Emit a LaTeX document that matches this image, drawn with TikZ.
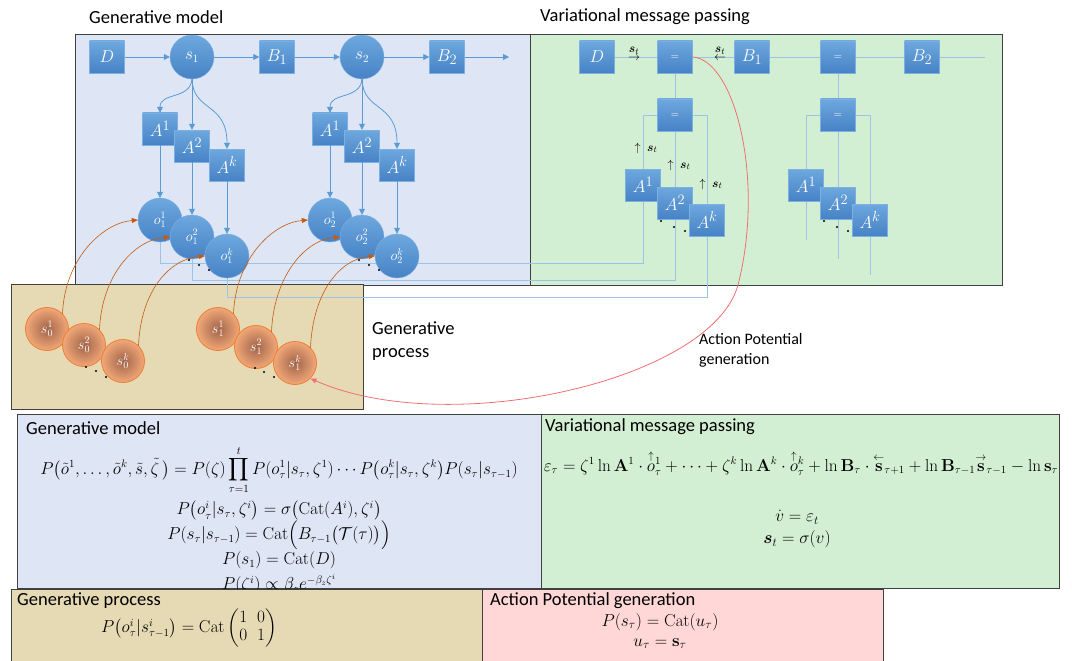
\documentclass[tikz,border=0pt]{standalone}
\usepackage{amsmath,amssymb}
\usepackage[no-math]{fontspec}
\setmainfont{Carlito}
\usepackage{tikz}
\usetikzlibrary{arrows.meta}

\definecolor{panelgm}{HTML}{DEE6F5}
\definecolor{panelvmp}{HTML}{D3EFD3}
\definecolor{panelgp}{HTML}{E6DAB5}
\definecolor{panelap}{HTML}{FFD7D7}
\definecolor{panelrule}{HTML}{404040}
\definecolor{nodetop}{HTML}{6EA8DE}
\definecolor{nodebot}{HTML}{4682C6}
\definecolor{nodeedge}{HTML}{7DB0E2}
\definecolor{flow}{HTML}{5B9BD5}
\definecolor{wire}{HTML}{9DC3E6}
\definecolor{procin}{HTML}{A0644A}
\definecolor{procout}{HTML}{F2A878}
\definecolor{procedge}{HTML}{ED7D31}
\definecolor{causal}{HTML}{C55A11}
\definecolor{action}{HTML}{F07070}

\pgfdeclarelayer{panels}
\pgfdeclarelayer{wires}
\pgfsetlayers{panels,wires,main}

\tikzset{
  panel/.style       = {draw=panelrule, line width=1pt},
  factor/.style      = {shape=rectangle, draw=nodeedge, line width=0.4pt,
                        top color=nodetop, bottom color=nodebot,
                        minimum width=35pt, minimum height=32pt, inner sep=0pt,
                        text=white, font=\fontsize{19}{19}\selectfont},
  equalbox/.style    = {factor, font=\fontsize{11}{11}\selectfont},
  statenode/.style   = {shape=circle, draw=nodeedge, line width=0.4pt,
                        top color=nodetop, bottom color=nodebot,
                        minimum size=44pt, inner sep=0pt, text=white,
                        font=\fontsize{16}{16}\selectfont},
  outcome/.style     = {statenode, font=\fontsize{14}{14}\selectfont},
  cause/.style       = {shape=circle, draw=procedge, line width=0.8pt,
                        inner color=procin, outer color=procout,
                        minimum size=43pt, inner sep=0pt, text=white,
                        font=\fontsize{14}{14}\selectfont},
  paneltitle/.style  = {anchor=west, inner sep=0pt, font=\fontsize{18.5}{22}\selectfont},
  sidenote/.style    = {anchor=west, align=left, inner sep=0pt},
  eqn/.style         = {inner sep=0pt, align=center},
  msg/.style         = {inner sep=0pt, align=center, font=\fontsize{13}{13}\selectfont},
  flowarrow/.style   = {draw=flow, line width=0.8pt, -{Triangle[length=6pt,width=6pt]}},
  wirelink/.style    = {draw=wire, line width=0.8pt},
  causearrow/.style  = {draw=causal, line width=0.6pt, -{Triangle[length=6pt,width=5pt]}},
  actionarrow/.style = {draw=action, line width=0.8pt, -{Triangle[length=6pt,width=5pt]}},
  ellipsisdot/.style = {fill=black, circle, inner sep=0pt, minimum size=2.2pt}
}

\begin{document}
\begin{tikzpicture}[x=1pt, y=-1pt]
  \useasboundingbox (0,0) rectangle (1072,661);

  \begin{pgfonlayer}{panels}
    \draw[panel, fill=panelgm]  (75,35)   rectangle (530,285);
    \draw[panel, fill=panelvmp] (530,35)  rectangle (1002,285);
    \draw[panel, fill=panelgp]  (11,284)  rectangle (363,409);
    \draw[panel, fill=panelgm]  (17,414)  rectangle (541,588);
    \draw[panel, fill=panelvmp] (541,414) rectangle (1059,588);
  \end{pgfonlayer}

  \node[paneltitle] (gmtitle)  at (89,17)  {Generative model};
  \node[paneltitle] (vmptitle) at (540,17) {Variational message passing};
  \node[sidenote, font=\fontsize{18.5}{23}\selectfont] (gpnote) at (372,341) {Generative\\process};
  \node[sidenote, font=\fontsize{16}{20}\selectfont]   (apnote) at (699,350) {Action Potential\\generation};

  % generative model
  \node[factor]    (D)  at (107,57) {$D$};
  \node[statenode] (s1) at (192,57) {$s_1$};
  \node[factor]    (B1) at (277,57) {$B_1$};
  \node[statenode] (s2) at (362,57) {$s_2$};
  \node[factor]    (B2) at (447,57) {$B_2$};
  \coordinate (gmtail) at (509,57);

  \draw[flowarrow] (D)  -- (s1);
  \draw[flowarrow] (s1) -- (B1);
  \draw[flowarrow] (B1) -- (s2);
  \draw[flowarrow] (s2) -- (B2);
  \draw[flowarrow] (B2) -- (gmtail);

  \foreach \t/\x in {1/0, 2/170}{
    \node[factor]  (A\t-1) at (160+\x,129) {$A^1$};
    \node[factor]  (A\t-2) at (192+\x,146) {$A^2$};
    \node[factor]  (A\t-k) at (227+\x,165) {$A^k$};
    \node[outcome] (o\t-1) at (160+\x,220) {$o_{\t}^1$};
    \node[outcome] (o\t-2) at (192+\x,237) {$o_{\t}^2$};
    \node[outcome] (o\t-k) at (227+\x,256) {$o_{\t}^k$};
    \draw[flowarrow] (s\t.south) .. controls (190+\x,100) and (160+\x,92) .. (A\t-1.north);
    \draw[flowarrow] (s\t.south) -- (A\t-2.north);
    \draw[flowarrow] (s\t.south) .. controls (193+\x,112) and (227+\x,102) .. (A\t-k.north);
    \draw[flowarrow] (A\t-1) -- (o\t-1);
    \draw[flowarrow] (A\t-2) -- (o\t-2);
    \draw[flowarrow] (A\t-k) -- (o\t-k);
    \node[ellipsisdot] at (189+\x,260) {};
    \node[ellipsisdot] at (199+\x,265) {};
    \node[ellipsisdot] at (209+\x,270) {};
  }

  % variational message passing
  \node[factor]   (vD)   at (597,57)  {$D$};
  \node[equalbox] (eq1)  at (675,57)  {$=$};
  \node[factor]   (vB1)  at (752,57)  {$B_1$};
  \node[equalbox] (eq2)  at (838,57)  {$=$};
  \node[factor]   (vB2)  at (922,57)  {$B_2$};
  \coordinate (vtail) at (985,57);
  \node[equalbox] (eq1b) at (675,115) {$=$};
  \node[equalbox] (eq2b) at (838,115) {$=$};

  \foreach \t/\x in {1/0, 2/163}{
    \node[factor] (vA\t-1) at (643+\x,185) {$A^1$};
    \node[factor] (vA\t-2) at (675+\x,203) {$A^2$};
    \node[factor] (vA\t-k) at (707+\x,220) {$A^k$};
    \node[ellipsisdot] at (661+\x,221) {};
    \node[ellipsisdot] at (674+\x,227) {};
    \node[ellipsisdot] at (685+\x,231) {};
  }

  \coordinate (bus1) at (0,263);
  \coordinate (bus2) at (0,280);
  \coordinate (bus3) at (0,297);
  \coordinate (tail1) at (806,240);
  \coordinate (tail2) at (838,259);
  \coordinate (tailk) at (870,275);

  \begin{pgfonlayer}{wires}
    \draw[wirelink] (vD) -- (eq1) -- (vB1) -- (eq2) -- (vB2) -- (vtail);
    \draw[wirelink] (eq1) -- (eq1b);
    \draw[wirelink] (eq2) -- (eq2b);
    \draw[wirelink] (o1-1) |- (bus1 -| vA1-1) -- (vA1-1 |- eq1b) -- (eq1b);
    \draw[wirelink] (o1-2) |- (bus2 -| vA1-2) -- (eq1b);
    \draw[wirelink] (o1-k) |- (bus3 -| vA1-k) |- (eq1b);
    \draw[wirelink] (eq2b) -| (tail1);
    \draw[wirelink] (eq2b) -- (tail2);
    \draw[wirelink] (eq2b) -| (tailk);
  \end{pgfonlayer}

  \node[msg] (fwd) at (634,54) {$\boldsymbol{s}_t$\\[-5pt]$\rightarrow$};
  \node[msg] (bwd) at (720,54) {$\boldsymbol{s}_t$\\[-5pt]$\leftarrow$};
  \node[msg] (up1) at (646,148) {$\uparrow\;\boldsymbol{s}_t$};
  \node[msg] (up2) at (679,165) {$\uparrow\;\boldsymbol{s}_t$};
  \node[msg] (upk) at (711,184) {$\uparrow\;\boldsymbol{s}_t$};

  % generative process
  \node[cause] (s0-1) at (47,329)  {$s_0^1$};
  \node[cause] (s0-2) at (84,345)  {$s_0^2$};
  \node[cause] (s0-k) at (123,361) {$s_0^k$};
  \node[cause] (s1-1) at (218,329) {$s_1^1$};
  \node[cause] (s1-2) at (256,347) {$s_1^2$};
  \node[cause] (s1-k) at (295,363) {$s_1^k$};
  \foreach \x/\y in {86/367, 96/371, 106/377, 255/368, 264/372, 274/377}
    \node[ellipsisdot] at (\x,\y) {};

  \draw[causearrow] (s0-1.north east) .. controls (65,258)  and (103,223) .. (o1-1.west);
  \draw[causearrow] (s0-2.north east) .. controls (102,274) and (135,240) .. (o1-2.west);
  \draw[causearrow] (s0-k.north east) .. controls (141,290) and (170,259) .. (o1-k.west);
  \draw[causearrow] (s1-1.north east) .. controls (236,258) and (273,223) .. (o2-1.west);
  \draw[causearrow] (s1-2.north east) .. controls (274,276) and (305,240) .. (o2-2.west);
  \draw[causearrow] (s1-k.north east) .. controls (313,292) and (340,259) .. (o2-k.west);

  % action potential
  \draw[actionarrow] (eq1.east) .. controls (735,60) and (765,180) .. (738,285)
    .. controls (712,380) and (450,440) .. (s1-k.south east);

  % equations
  \node[paneltitle] (gmhead) at (26,428) {Generative model};
  \node[eqn, font=\fontsize{16}{19}\selectfont] (gm1) at (279,470)
    {$\displaystyle P\bigl(\tilde{o}^1,\dots,\tilde{o}^k,\tilde{s},\tilde{\zeta}\,\bigr) = P(\zeta)\prod_{\tau=1}^{t} P(o_\tau^1|s_\tau,\zeta^1)\cdots P\bigl(o_\tau^k|s_\tau,\zeta^k\bigr)P(s_\tau|s_{\tau-1})$};
  \node[eqn, anchor=north, font={\fontsize{16}{25}\selectfont\lineskiplimit=-30pt}] (gm2) at (279,500)
    {$P\bigl(o_\tau^i|s_\tau,\zeta^i\bigr) = \sigma\bigl(\mathrm{Cat}(A^i),\zeta^i\bigr)$\\
     $P(s_\tau|s_{\tau-1}) = \mathrm{Cat}\Bigl(B_{\tau-1}\bigl(\mathcal{T}(\tau)\bigr)\Bigr)$\\
     $P(s_1) = \mathrm{Cat}(D)$\\
     $P(\zeta^i) \propto \beta_z e^{-\beta_z\zeta^i}$};

  \node[paneltitle] (vmphead) at (545,427) {Variational message passing};
  \node[eqn, font=\fontsize{16}{18}\selectfont] (vmp1) at (801,463)
    {$\varepsilon_\tau = \zeta^1\ln\mathbf{A}^1\cdot\overset{\uparrow}{o}{}_\tau^1 + \cdots + \zeta^k\ln\mathbf{A}^k\cdot\overset{\uparrow}{o}{}_\tau^k + \ln\mathbf{B}_\tau\cdot\overset{\leftarrow}{\mathbf{s}}_{\tau+1} + \ln\mathbf{B}_{\tau-1}\overset{\rightarrow}{\mathbf{s}}_{\tau-1} - \ln\mathbf{s}_\tau$};
  \node[eqn, font=\fontsize{17}{22}\selectfont] (vmp2) at (797,529)
    {$\dot{v} = \varepsilon_t$\\ $\boldsymbol{s}_t = \sigma(v)$};

  % lower panels overlap the model box
  \draw[panel, fill=panelgp] (11,589)  rectangle (482,668);
  \draw[panel, fill=panelap] (482,589) rectangle (883,668);

  \node[paneltitle] (gphead) at (17,601) {Generative process};
  \node[eqn, font=\fontsize{16}{18}\selectfont] (gp1) at (189,628)
    {$P\bigl(o_\tau^i|s_{\tau-1}^i\bigr) = \mathrm{Cat}\begin{pmatrix}1&0\\0&1\end{pmatrix}$};

  \node[paneltitle] (aphead) at (490,601) {Action Potential generation};
  \node[eqn, font=\fontsize{17}{20}\selectfont] (ap1) at (660,631)
    {$P(s_\tau) = \mathrm{Cat}(u_\tau)$\\ $u_\tau = \mathbf{s}_\tau$};
\end{tikzpicture}
\end{document}
